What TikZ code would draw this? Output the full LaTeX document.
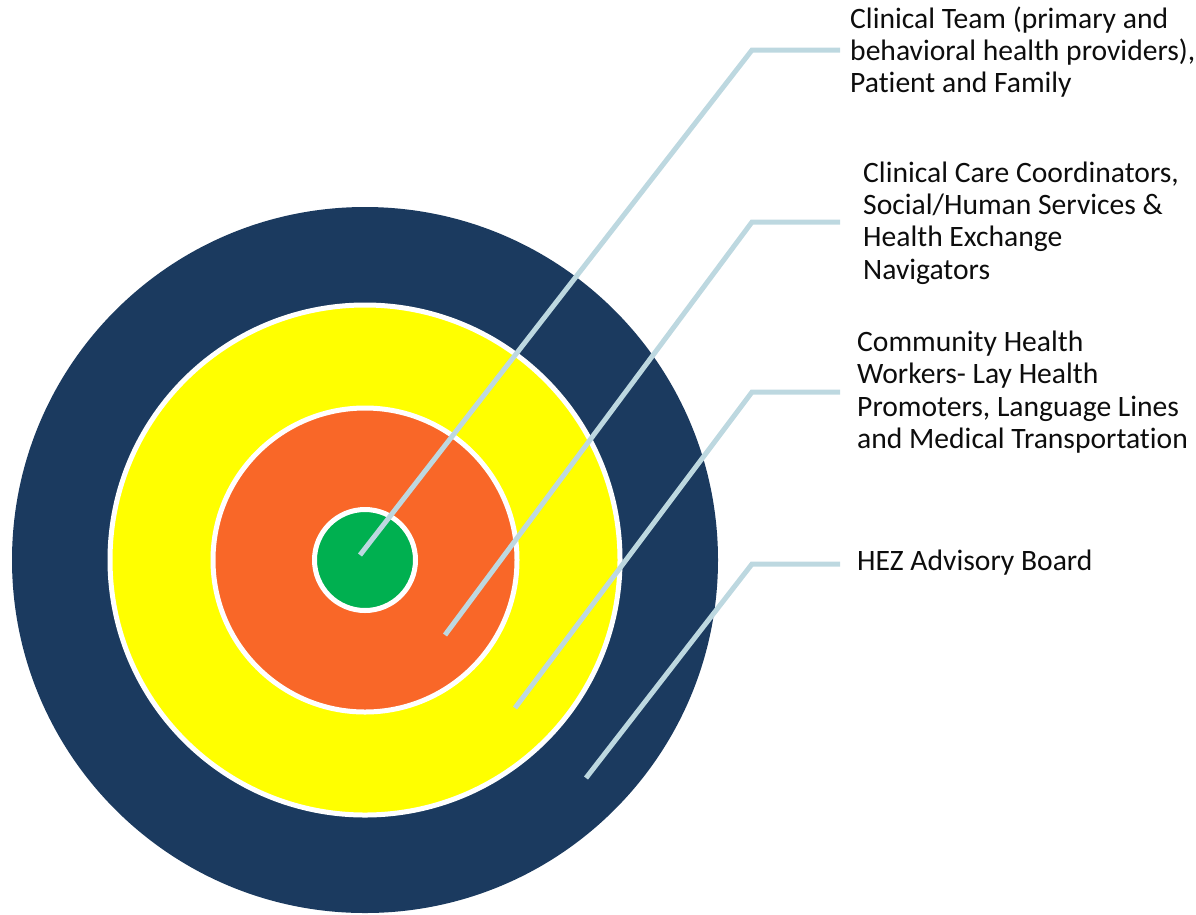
\documentclass[tikz,border=0pt]{standalone}
\usepackage{fontspec}
\setmainfont[Ligatures=NoCommon]{Carlito}
\definecolor{navy}{HTML}{1B3A5F}
\definecolor{ylw}{HTML}{FFFF00}
\definecolor{orng}{HTML}{F96728}
\definecolor{grn}{HTML}{00B050}
\definecolor{lead}{HTML}{BDD8E0}
\definecolor{txt}{HTML}{0D0D0D}
\begin{document}
\begin{tikzpicture}[x=1pt,y=-1pt,
  ring/.style={draw=white,line width=5pt},
  leader/.style={draw=lead,line width=5pt},
  lbl/.style={anchor=west,inner sep=0pt,align=left,text=txt,font=\fontsize{29.6}{32.3}\selectfont}]
\useasboundingbox (0,0) rectangle (1196,914);
\coordinate (c) at (365,560);
\fill[navy] (c) circle (353);
\path[ring,fill=ylw] (c) circle (255);
\path[ring,fill=orng] (c) circle (152);
\path[ring,fill=grn] (c) circle (50.5);
% leader lines
\coordinate (s1) at (360,555); \coordinate (k1) at (752,50);  \coordinate (e1) at (840,50);
\coordinate (s2) at (445,635); \coordinate (k2) at (752,222); \coordinate (e2) at (840,222);
\coordinate (s3) at (515,708); \coordinate (k3) at (752,392); \coordinate (e3) at (840,392);
\coordinate (s4) at (586,778); \coordinate (k4) at (752,564); \coordinate (e4) at (840,564);
\draw[leader] (s1) -- (k1) -- (e1);
\draw[leader] (s2) -- (k2) -- (e2);
\draw[leader] (s3) -- (k3) -- (e3);
\draw[leader] (s4) -- (k4) -- (e4);
\node[lbl] (t1) at (850,52) {Clinical Team (primary and\\behavioral health providers),\\Patient and Family};
\node[lbl] (t2) at (863,223) {Clinical Care Coordinators,\\Social/Human Services \&\\Health Exchange\\Navigators};
\node[lbl] (t3) at (857,392) {Community Health\\Workers- Lay Health\\Promoters, Language Lines\\and Medical Transportation};
\node[lbl] (t4) at (857,563) {HEZ Advisory Board};
\end{tikzpicture}
\end{document}
